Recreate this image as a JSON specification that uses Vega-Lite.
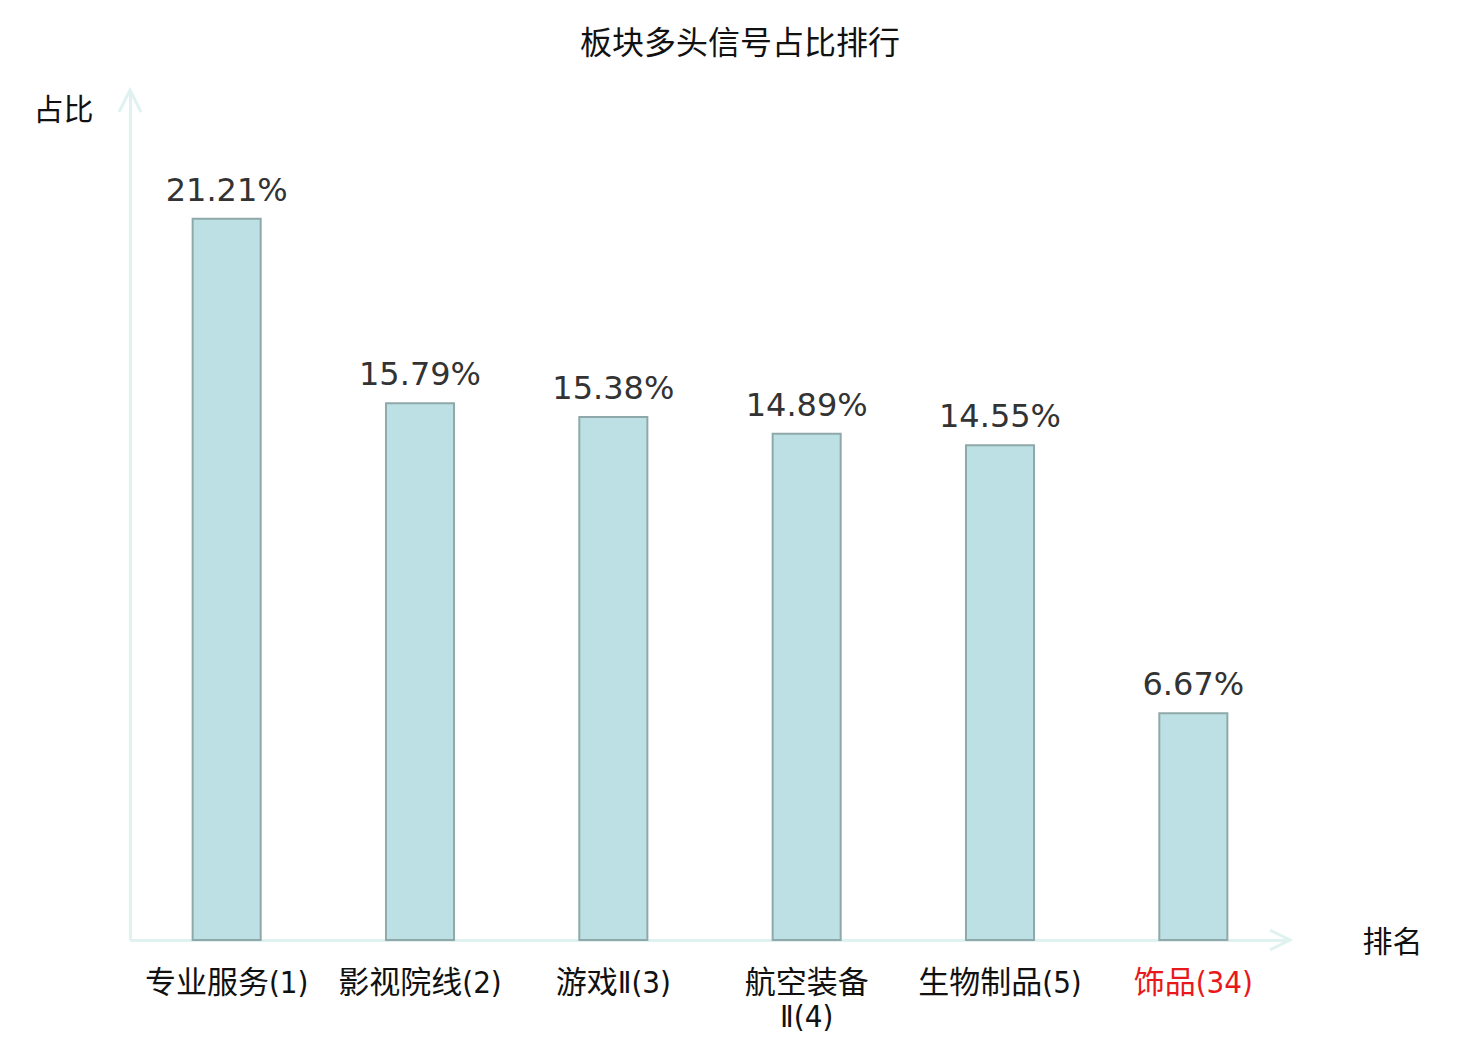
{
  "$schema": "https://vega.github.io/schema/vega-lite/v6.json",
  "autosize": {"type": "none"},
  "padding": {"left": 130, "top": 90, "right": 190, "bottom": 100},
  "width": 1160,
  "height": 850,
  "background": "white",
  "title": {
    "text": "板块多头信号占比排行",
    "font": "Noto Sans CJK SC",
    "fontSize": 32,
    "fontWeight": "normal",
    "color": "#111111",
    "anchor": "middle",
    "dx": 30,
    "offset": 23
  },
  "config": {
    "view": {"stroke": null},
    "axis": {"grid": false, "ticks": false, "tickSize": 0, "domainColor": "#dff2ef", "domainWidth": 3}
  },
  "data": {
    "values": [
      {"name": "专业服务(1)", "ratio": 0.2121},
      {"name": "影视院线(2)", "ratio": 0.1579},
      {"name": "游戏Ⅱ(3)", "ratio": 0.1538},
      {"name": "航空装备Ⅱ(4)", "ratio": 0.1489},
      {"name": "生物制品(5)", "ratio": 0.1455},
      {"name": "饰品(34)", "ratio": 0.0667}
    ]
  },
  "encoding": {
    "x": {
      "field": "name",
      "type": "nominal",
      "sort": null,
      "scale": {"paddingInner": 0.648, "paddingOuter": 0.324},
      "axis": {
        "title": "排名",
        "titleFont": "Noto Sans CJK SC",
        "titleFontSize": 30,
        "titleFontWeight": "normal",
        "titleColor": "#111111",
        "titleX": 1262,
        "titleY": 2,
        "titleAlign": "center",
        "titleBaseline": "middle",
        "labelFont": "Liberation Sans Narrow, DejaVu Sans Condensed, Noto Sans CJK SC",
        "labelFontSize": 31,
        "labelAngle": 0,
        "labelPadding": 28,
        "labelLineHeight": 34,
        "labelBaseline": "top",
        "labelExpr": "datum.value == '航空装备Ⅱ(4)' ? ['航空装备', 'Ⅱ(4)'] : datum.value",
        "labelColor": {"expr": "datum.value == '饰品(34)' ? '#e8191a' : '#111111'"}
      }
    },
    "y": {
      "field": "ratio",
      "type": "quantitative",
      "scale": {"domain": [0, 0.25], "nice": false},
      "axis": {
        "title": "占比",
        "titleFont": "Noto Sans CJK SC",
        "titleFontSize": 30,
        "titleFontWeight": "normal",
        "titleColor": "#111111",
        "titleAngle": 0,
        "titleX": -67,
        "titleY": 20,
        "titleAlign": "center",
        "titleBaseline": "middle",
        "labels": false
      }
    }
  },
  "layer": [
    {
      "mark": {"type": "bar", "fill": "#bce0e3", "stroke": "#8fa9aa", "strokeWidth": 2}
    },
    {
      "mark": {"type": "text", "font": "DejaVu Sans", "fontSize": 32, "color": "#333333", "baseline": "alphabetic", "dy": -18},
      "encoding": {"text": {"field": "ratio", "type": "quantitative", "format": ".2%"}}
    },
    {
      "data": {"values": [{"tip": 0.25}]},
      "mark": {"type": "point", "shape": "M-0.5,1L0,0L0.5,1", "filled": false, "stroke": "#dff2ef", "strokeWidth": 3, "size": 1936, "opacity": 1},
      "encoding": {
        "x": {"value": 0},
        "y": {"field": "tip", "type": "quantitative"}
      }
    },
    {
      "data": {"values": [{"tip": 0}]},
      "mark": {"type": "point", "shape": "M-1,-0.5L0,0L-1,0.5", "filled": false, "stroke": "#dff2ef", "strokeWidth": 3, "size": 1600, "opacity": 1},
      "encoding": {
        "x": {"value": 1160},
        "y": {"field": "tip", "type": "quantitative"}
      }
    }
  ]
}
